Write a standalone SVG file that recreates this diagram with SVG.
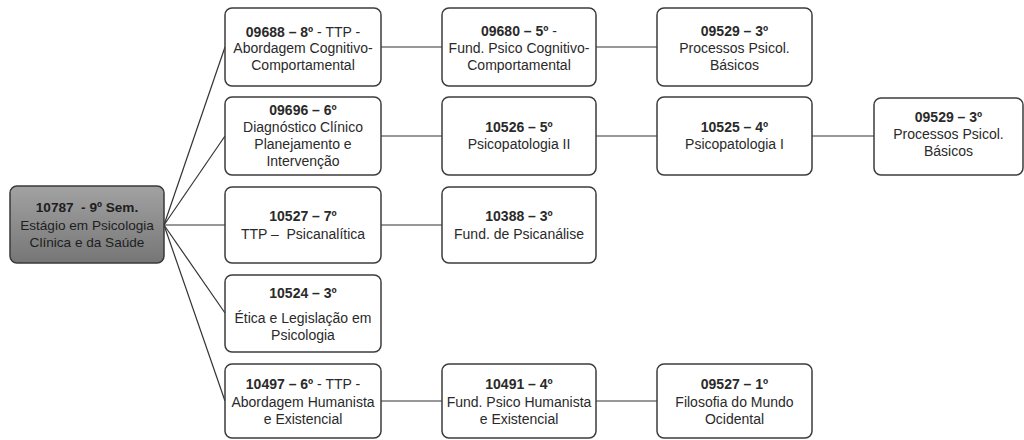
<svg xmlns="http://www.w3.org/2000/svg" width="1024" height="440" viewBox="0 0 1024 440">
<style>
.box{fill:#fff;stroke:#3c3c3c;stroke-width:1.5}
.root{fill:url(#g);stroke:#3a3a3a;stroke-width:1.5}
text{font-family:"Liberation Sans",Arial,sans-serif;font-size:14px;fill:#2a2a2a;text-anchor:middle}
.r{font-size:13.6px;fill:#1e1e1e}
.b{font-weight:bold}
.c line{stroke:#333;stroke-width:1.2}
</style>
<defs>
<linearGradient id="g" x1="0" y1="0" x2="0" y2="1">
<stop offset="0" stop-color="#a2a2a2"/>
<stop offset="1" stop-color="#767676"/>
</linearGradient>
</defs>
<g class="c" id="connectors">
<line x1="164" y1="225" x2="225" y2="47"/>
<line x1="164" y1="225" x2="225" y2="136"/>
<line x1="164" y1="225" x2="225" y2="225"/>
<line x1="164" y1="225" x2="225" y2="313"/>
<line x1="164" y1="225" x2="225" y2="401"/>
<line x1="381" y1="47" x2="442" y2="47"/>
<line x1="381" y1="136" x2="442" y2="136"/>
<line x1="381" y1="225" x2="442" y2="225"/>
<line x1="381" y1="401" x2="442" y2="401"/>
<line x1="596" y1="47" x2="657" y2="47"/>
<line x1="596" y1="136" x2="657" y2="136"/>
<line x1="596" y1="401" x2="657" y2="401"/>
<line x1="812" y1="136" x2="874" y2="136"/>
</g>
<g id="n10787">
<rect class="root" x="10" y="186" width="154" height="77" rx="7"/>
<text x="87" y="212" class="b r" xml:space="preserve">10787  - 9º Sem.</text>
<text x="87" y="230" class="r">Estágio em Psicologia</text>
<text x="87" y="247" class="r">Clínica e da Saúde</text>
</g>
<g id="n09688">
<rect class="box" x="225" y="8" width="156" height="78" rx="7"/>
<text x="303" y="37"><tspan class="b">09688 – 8º</tspan> - TTP -</text>
<text x="303" y="53">Abordagem Cognitivo-</text>
<text x="303" y="70">Comportamental</text>
</g>
<g id="n09680">
<rect class="box" x="442" y="8" width="154" height="78" rx="7"/>
<text x="519" y="36"><tspan class="b">09680 – 5º</tspan> -</text>
<text x="519" y="53">Fund. Psico Cognitivo-</text>
<text x="519" y="70">Comportamental</text>
</g>
<g id="n09529a">
<rect class="box" x="657" y="8" width="155" height="78" rx="7"/>
<text x="734.5" y="36" class="b">09529 – 3º</text>
<text x="734.5" y="53">Processos Psicol.</text>
<text x="734.5" y="70">Básicos</text>
</g>
<g id="n09696">
<rect class="box" x="225" y="97" width="156" height="78" rx="7"/>
<text x="303" y="115" class="b">09696 – 6º</text>
<text x="303" y="132">Diagnóstico Clínico</text>
<text x="303" y="149">Planejamento e</text>
<text x="303" y="166">Intervenção</text>
</g>
<g id="n10526">
<rect class="box" x="442" y="97" width="154" height="78" rx="7"/>
<text x="519" y="132" class="b">10526 – 5º</text>
<text x="519" y="149">Psicopatologia II</text>
</g>
<g id="n10525">
<rect class="box" x="657" y="97" width="155" height="78" rx="7"/>
<text x="734.5" y="132" class="b">10525 – 4º</text>
<text x="734.5" y="149">Psicopatologia I</text>
</g>
<g id="n09529b">
<rect class="box" x="874" y="98" width="149" height="77" rx="7"/>
<text x="948.5" y="122" class="b">09529 – 3º</text>
<text x="948.5" y="139">Processos Psicol.</text>
<text x="948.5" y="156">Básicos</text>
</g>
<g id="n10527">
<rect class="box" x="225" y="187" width="156" height="76" rx="7"/>
<text x="303" y="221" class="b">10527 – 7º</text>
<text x="303" y="239" xml:space="preserve">TTP –  Psicanalítica</text>
</g>
<g id="n10388">
<rect class="box" x="442" y="187" width="154" height="76" rx="7"/>
<text x="519" y="221" class="b">10388 – 3º</text>
<text x="519" y="239">Fund. de Psicanálise</text>
</g>
<g id="n10524">
<rect class="box" x="225" y="275" width="156" height="77" rx="7"/>
<text x="303" y="298" class="b">10524 – 3º</text>
<text x="303" y="323">Ética e Legislação em</text>
<text x="303" y="340">Psicologia</text>
</g>
<g id="n10497">
<rect class="box" x="225" y="364" width="156" height="74" rx="7"/>
<text x="303" y="389"><tspan class="b">10497 – 6º</tspan> - TTP -</text>
<text x="303" y="407">Abordagem Humanista</text>
<text x="303" y="424">e Existencial</text>
</g>
<g id="n10491">
<rect class="box" x="442" y="364" width="154" height="74" rx="7"/>
<text x="519" y="389" class="b">10491 – 4º</text>
<text x="519" y="407">Fund. Psico Humanista</text>
<text x="519" y="424">e Existencial</text>
</g>
<g id="n09527">
<rect class="box" x="657" y="364" width="155" height="74" rx="7"/>
<text x="734.5" y="389" class="b">09527 – 1º</text>
<text x="734.5" y="407">Filosofia do Mundo</text>
<text x="734.5" y="424">Ocidental</text>
</g>
</svg>
